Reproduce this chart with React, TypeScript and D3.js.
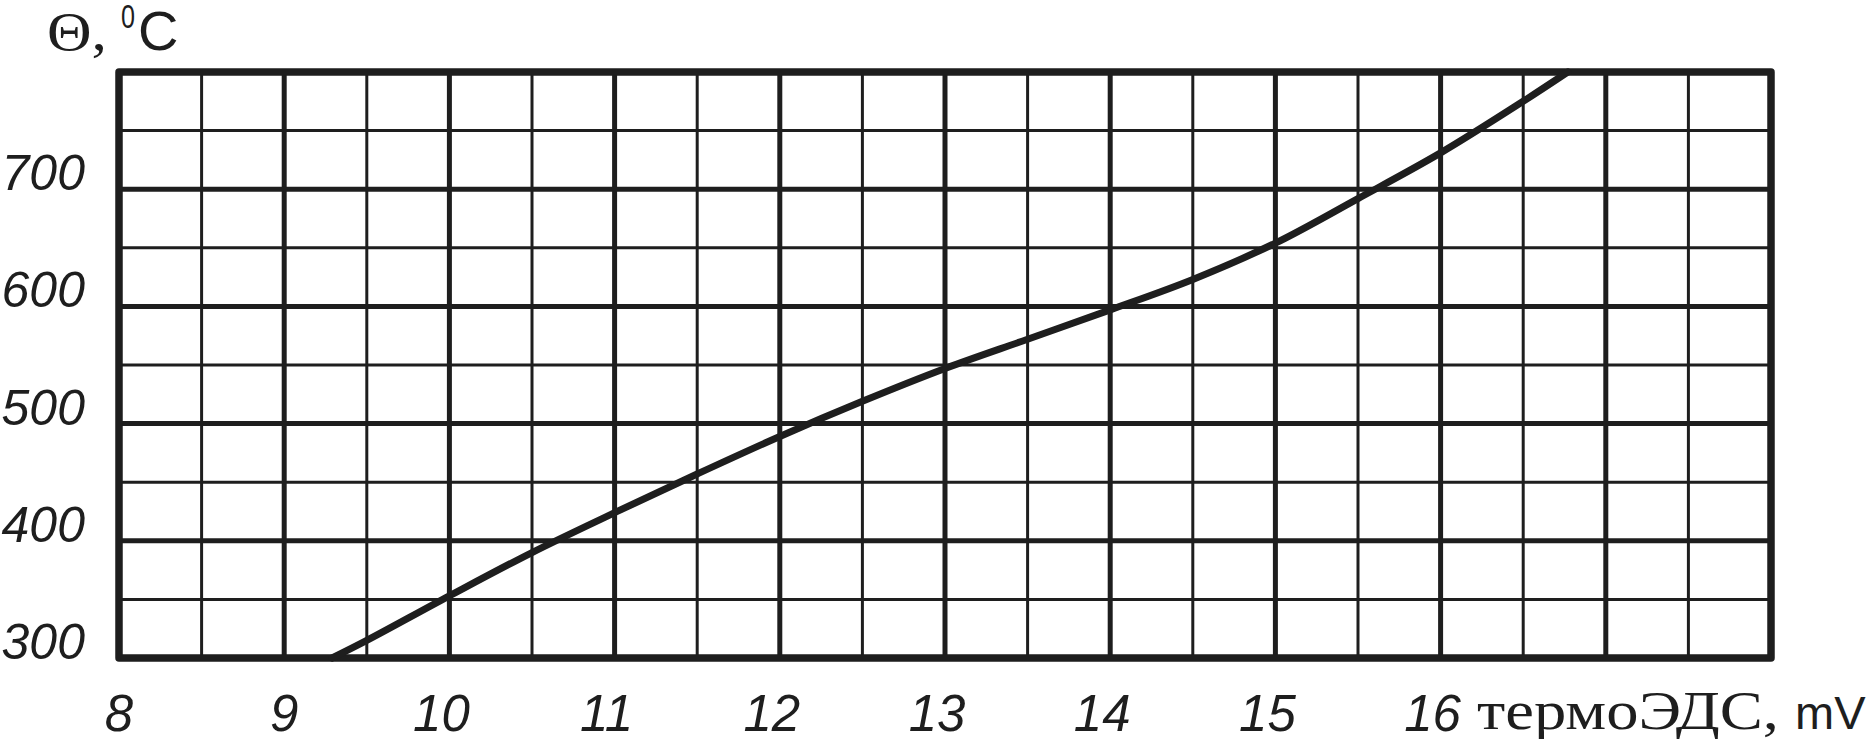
import React from "react";
import * as d3 from "d3";

const emf = [9.29, 9.5, 10, 10.5, 11, 11.5, 12, 12.5, 13, 13.5, 14, 14.5, 15, 15.5, 16, 16.5, 16.77];
const temp = [300, 315, 353, 390, 424, 457, 489, 519, 547, 572, 597, 623, 654, 692, 731, 775, 800];
const xTickLabels = [8, 9, 10, 11, 12, 13, 14, 15, 16];
const yTickLabels = [300, 400, 500, 600, 700];
const xDomain: [number, number] = [8, 18];
const yDomain: [number, number] = [300, 800];
const xStep = 0.5;
const yStep = 50;

const W = 1866;
const H = 739;
const INK = "#1e1e1e";

export default function App() {
  const x = d3.scaleLinear().domain(xDomain).range([119, 1771]);
  const y = d3.scaleLinear().domain(yDomain).range([658, 72]);

  const xGrid = d3.range(xDomain[0], xDomain[1] + 1e-9, xStep);
  const yGrid = d3.range(yDomain[0], yDomain[1] + 1e-9, yStep);

  const line = d3
    .line<number>()
    .x((_, i) => x(emf[i]))
    .y((_, i) => y(temp[i]))
    .curve(d3.curveCatmullRom.alpha(0.5));

  const isMajorX = (v: number) => Math.abs(v - Math.round(v)) < 1e-6;
  const isMajorY = (v: number) => Math.abs(v / 100 - Math.round(v / 100)) < 1e-6;

  return (
    <svg
      width={W}
      height={H}
      style={{ position: "absolute", left: 0, top: 0, background: "#fff" }}
    >
      {/* grid */}
      {xGrid.slice(1, -1).map((v) => (
        <line
          key={"gx" + v}
          x1={x(v)}
          x2={x(v)}
          y1={y(yDomain[0])}
          y2={y(yDomain[1])}
          stroke={INK}
          strokeWidth={isMajorX(v) ? 5 : 3}
        />
      ))}
      {yGrid.slice(1, -1).map((v) => (
        <line
          key={"gy" + v}
          x1={x(xDomain[0])}
          x2={x(xDomain[1])}
          y1={y(v)}
          y2={y(v)}
          stroke={INK}
          strokeWidth={isMajorY(v) ? 5 : 3}
        />
      ))}
      {/* border */}
      <rect
        x={x(xDomain[0])}
        y={y(yDomain[1])}
        width={x(xDomain[1]) - x(xDomain[0])}
        height={y(yDomain[0]) - y(yDomain[1])}
        fill="none"
        stroke={INK}
        strokeWidth={7.5}
        strokeLinejoin="round"
      />
      {/* curve */}
      <path
        d={line(emf) || ""}
        fill="none"
        stroke={INK}
        strokeWidth={7}
        strokeLinecap="round"
      />
      {/* y tick labels */}
      {yTickLabels.map((v) => (
        <text
          key={"yl" + v}
          x={85}
          y={y(v) + 1}
          textAnchor="end"
          fontFamily="Liberation Sans, Arial, sans-serif"
          fontStyle="italic"
          fontSize={50}
          fill={INK}
        >
          {v}
        </text>
      ))}
      {/* x tick labels */}
      {xTickLabels.map((v) => (
        <text
          key={"xl" + v}
          x={x(v)}
          dx={v >= 10 ? -8 : 0}
          y={731}
          textAnchor="middle"
          fontFamily="Liberation Sans, Arial, sans-serif"
          fontStyle="italic"
          fontSize={51}
          fill={INK}
        >
          {v}
        </text>
      ))}
      {/* x axis title */}
      <text
        x={1477}
        y={729}
        fontFamily="Liberation Serif, Times New Roman, serif"
        fontSize={54}
        fill={INK}
        textLength={302}
        lengthAdjust="spacingAndGlyphs"
      >
        термоЭДС,
      </text>
      <text
        x={1795}
        y={729}
        fontFamily="Liberation Sans, Arial, sans-serif"
        fontSize={47}
        fill={INK}
      >
        mV
      </text>
      {/* y axis title */}
      <text
        x={47}
        y={50}
        fontFamily="Liberation Serif, Times New Roman, serif"
        fontSize={54}
        fill={INK}
        textLength={60}
        lengthAdjust="spacingAndGlyphs"
      >
        Θ,
      </text>
      <text
        x={121}
        y={28}
        fontFamily="Liberation Sans, Arial, sans-serif"
        fontSize={34}
        fill={INK}
        textLength={14}
        lengthAdjust="spacingAndGlyphs"
      >
        0
      </text>
      <text
        x={138}
        y={50}
        fontFamily="Liberation Sans, Arial, sans-serif"
        fontSize={56}
        fill={INK}
      >
        C
      </text>
    </svg>
  );
}
